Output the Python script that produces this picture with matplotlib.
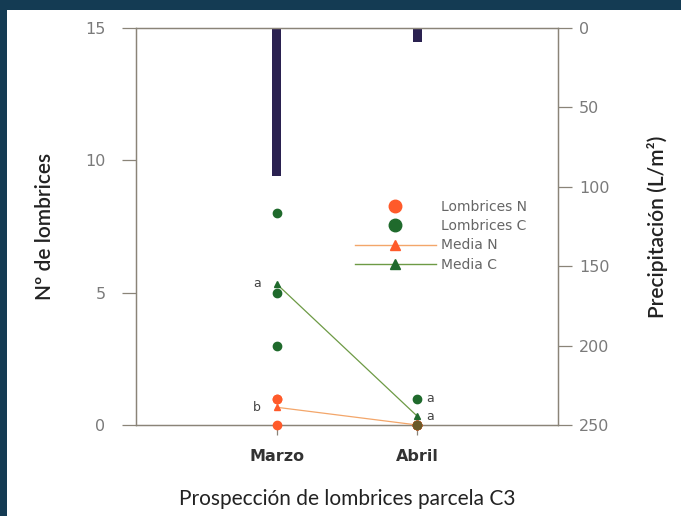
import numpy as np
import matplotlib
matplotlib.use('Agg')
import matplotlib.pyplot as plt
from matplotlib.patches import Rectangle
from matplotlib.lines import Line2D

# datos
meses = ['Marzo', 'Abril']
x_pos = [1, 2]
lombrices_n = [[0, 1, 1], [0, 0, 0]]
lombrices_c = [[8, 5, 3], [1, 0, 0]]
media_n = [0.67, 0.0]
media_c = [5.33, 0.33]
precipitacion = [93, 9]
letras_marzo = [('a', 5.33), ('b', 0.67)]
letras_abril = [('a', 1.0), ('a', 0.33)]

c_naranja = '#ff5a2a'
c_verde = '#1f6a2c'
c_gris = '#7a7a7a'

fig = plt.figure(figsize=(6.81, 5.16), dpi=100)
fig.patch.set_facecolor('#143b53')
fig.patches.append(Rectangle((7/681, 0), 1, 1 - 10/516, transform=fig.transFigure,
                             facecolor='white', edgecolor='none', zorder=-10))

ax = fig.add_axes([136/681, 1 - 425/516, 422/681, 397/516])
ax2 = ax.twinx()
ax.set_zorder(ax2.get_zorder() + 1)
ax.patch.set_visible(False)
ax2.patch.set_visible(False)

# precipitacion (eje derecho invertido)
ax2.bar(x_pos, precipitacion, width=0.06, color='#2a2150', zorder=1)
ax2.set_ylim(250, 0)
ax2.set_yticks([0, 50, 100, 150, 200, 250])

# medias
ax.plot(x_pos, media_n, color='#f3a66a', lw=0.9, marker='^', ms=4,
        mfc=c_naranja, mec=c_naranja, zorder=3, clip_on=False)
ax.plot(x_pos, media_c, color='#6d9a45', lw=0.9, marker='^', ms=4,
        mfc=c_verde, mec=c_verde, zorder=3, clip_on=False)

# puntos individuales
for i, x in enumerate(x_pos):
    ax.plot([x] * len(lombrices_c[i]), lombrices_c[i], 'o', color=c_verde, ms=6,
            zorder=4, clip_on=False)
    ax.plot([x] * len(lombrices_n[i]), lombrices_n[i], 'o', color=c_naranja, ms=6,
            zorder=5, clip_on=False)
ax.plot([2], [0], 'o', color='#6a5a2a', ms=6, zorder=6, clip_on=False)

for t, y in letras_marzo:
    ax.text(0.86, y, t, color='#444444', fontsize=9, ha='center', va='center')
for t, y in letras_abril:
    ax.text(2.09, y, t, color='#444444', fontsize=9, ha='center', va='center')

ax.set_xlim(0, 3)
ax.set_ylim(0, 15)
ax.set_yticks([0, 5, 10, 15])
ax.set_xticks(x_pos)
ax.set_xticklabels(meses, fontweight='bold', fontsize=9, color='#333333')

for a in (ax, ax2):
    for s in a.spines.values():
        s.set_color('#8a8478')
        s.set_linewidth(0.9)
    a.tick_params(colors='#8a8478', labelsize=11.5, length=10, width=0.9, direction='out')
ax.tick_params(axis='y', labelcolor=c_gris, pad=12)
ax2.tick_params(axis='y', labelcolor=c_gris, pad=5)
ax.tick_params(axis='x', length=7, pad=10, labelcolor='#333333')

ax.set_ylabel('Nº de lombrices', fontsize=15, fontfamily='Lato', fontweight='semibold',
              color='#222222', labelpad=22)
ax2.set_ylabel('Precipitación (L/m²)', fontsize=15, fontfamily='Lato', fontweight='semibold',
               color='#222222', labelpad=27)
ax.set_xlabel('Prospección de lombrices parcela C3', fontsize=15, fontfamily='Lato',
              color='#222222', labelpad=18)

handles = [
    Line2D([], [], ls='none', marker='o', ms=9, color=c_naranja),
    Line2D([], [], ls='none', marker='o', ms=9, color=c_verde),
    Line2D([], [], color='#f3a66a', lw=1, marker='^', ms=7, mfc=c_naranja, mec=c_naranja),
    Line2D([], [], color='#6d9a45', lw=1, marker='^', ms=7, mfc=c_verde, mec=c_verde),
]
labels = ['Lombrices N', 'Lombrices C', 'Media N', 'Media C']
leg = ax.legend(handles, labels, loc='upper left', bbox_to_anchor=(0.519, 0.567),
                frameon=False, fontsize=10, handlelength=5.8, labelspacing=0.38,
                handletextpad=0.4, borderaxespad=0, borderpad=0)
for t in leg.get_texts():
    t.set_color('#666666')

fig.savefig('out.png', dpi=100)
